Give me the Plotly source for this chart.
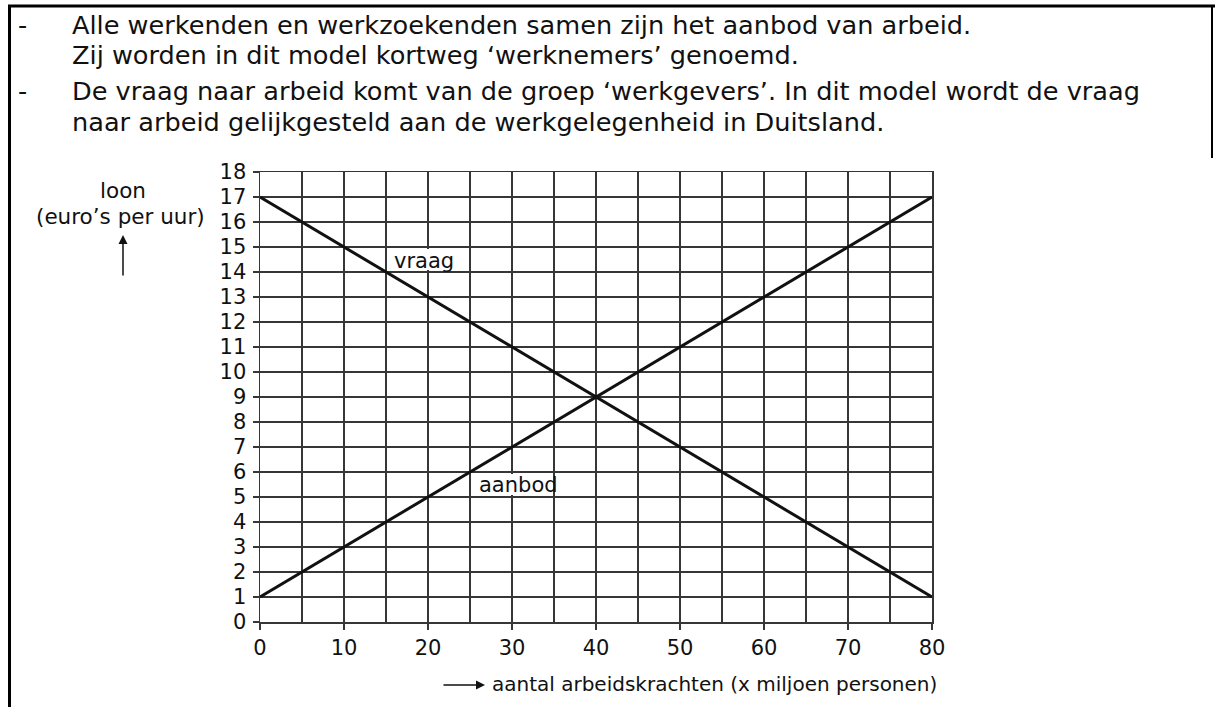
import plotly.graph_objects as go

# ---------------- data ----------------
arbeid = [0, 80]            # aantal arbeidskrachten (x miljoen personen)
vraag = [17, 1]             # loon bij vraag
aanbod = [1, 17]            # loon bij aanbod
x_ticks = [0, 10, 20, 30, 40, 50, 60, 70, 80]
x_grid = [0, 5, 10, 15, 20, 25, 30, 35, 40, 45, 50, 55, 60, 65, 70, 75, 80]
y_ticks = list(range(0, 19))

intro_lines = [
    "Alle werkenden en werkzoekenden samen zijn het aanbod van arbeid.",
    "Zij worden in dit model kortweg \u2018werknemers\u2019 genoemd.",
    "De vraag naar arbeid komt van de groep \u2018werkgevers\u2019. In dit model wordt de vraag",
    "naar arbeid gelijkgesteld aan de werkgelegenheid in Duitsland.",
]
bullet_lines = [0, 2]

# ---------------- layout helpers ----------------
W, H = 1215, 707
L, R, T, B = 260, 932, 172, 622


def px(x):
    return (x - L) / (R - L)


def py(y):
    return (B - y) / (B - T)


FONT = "DejaVu Sans"
GRID = "#363636"

fig = go.Figure()
fig.add_trace(go.Scatter(x=arbeid, y=vraag, mode="lines",
                         line=dict(color="#111111", width=3),
                         showlegend=False, hoverinfo="skip"))
fig.add_trace(go.Scatter(x=arbeid, y=aanbod, mode="lines",
                         line=dict(color="#111111", width=3),
                         showlegend=False, hoverinfo="skip"))

axis_common = dict(
    ticks="outside", ticklen=6, tickwidth=1.5, tickcolor=GRID,
    showgrid=True, gridcolor=GRID, gridwidth=1.5,
    showline=True, linecolor=GRID, linewidth=1.5, mirror=True,
    zeroline=False, tickfont=dict(family=FONT, size=21, color="#111111"),
    fixedrange=True,
)

fig.update_layout(
    width=W, height=H,
    margin=dict(l=L, r=W - R, t=T, b=H - B),
    plot_bgcolor="white", paper_bgcolor="white",
    xaxis=dict(range=[0, 80], tickmode="array", tickvals=x_ticks,
               minor=dict(tickmode="array", tickvals=x_grid, showgrid=True,
                          gridcolor=GRID, gridwidth=1.5, ticks=""),
               **axis_common),
    yaxis=dict(range=[0, 18], tickmode="array", tickvals=y_ticks,
               ticklabelstandoff=2, **axis_common),
    font=dict(family=FONT, color="#111111"),
)

shapes = []
# outer frame of the exam box (drawn as one open path)
frame_path = "M {:.5f},{:.5f} L {:.5f},{:.5f} L {:.5f},{:.5f}".format(
    px(9.5), py(707), px(9.5), py(6), px(1215), py(6))
shapes.append(dict(type="path", xref="paper", yref="paper", path=frame_path,
                   line=dict(color="black", width=3)))
shapes.append(dict(type="line", xref="paper", yref="paper",
                   x0=px(1212), x1=px(1212), y0=py(5), y1=py(158),
                   line=dict(color="black", width=2)))
# white masks behind the curve labels (between grid and traces)
shapes.append(dict(type="rect", xref="x", yref="y", layer="between",
                   x0=15.4, x1=22.9, y0=14.08, y1=14.92,
                   fillcolor="white", line=dict(width=0)))
shapes.append(dict(type="rect", xref="x", yref="y", layer="between",
                   x0=25.5, x1=34.8, y0=5.08, y1=5.92,
                   fillcolor="white", line=dict(width=0)))
fig.update_layout(shapes=shapes)

ann = []
line_y = [25.5, 55, 91, 122]
for i, txt in enumerate(intro_lines):
    ann.append(dict(xref="paper", yref="paper", x=px(70), y=py(line_y[i]),
                    xanchor="left", yanchor="middle", showarrow=False,
                    text=txt, font=dict(family=FONT, size=25.6, color="#111111")))
for i in bullet_lines:
    ann.append(dict(xref="paper", yref="paper", x=px(23), y=py(line_y[i]),
                    xanchor="center", yanchor="middle", showarrow=False,
                    text="-", font=dict(family=FONT, size=25.6, color="#111111")))

# y-axis title
ann.append(dict(xref="paper", yref="paper", x=px(123), y=py(190),
                xanchor="center", yanchor="middle", showarrow=False,
                text="loon", font=dict(family=FONT, size=21.5, color="#111111")))
ann.append(dict(xref="paper", yref="paper", x=px(120), y=py(216),
                xanchor="center", yanchor="middle", showarrow=False,
                text="(euro\u2019s per uur)", font=dict(family=FONT, size=21.5, color="#111111")))
ann.append(dict(xref="paper", yref="paper", x=px(123), y=py(235),
                ax=0, ay=42, showarrow=True, text="",
                arrowhead=2, arrowsize=1.2, arrowwidth=1.5, arrowcolor="#111111"))

# x-axis title
ann.append(dict(xref="paper", yref="paper", x=px(485), y=py(685),
                ax=-43, ay=0, showarrow=True, text="",
                arrowhead=2, arrowsize=1.2, arrowwidth=1.5, arrowcolor="#111111"))
ann.append(dict(xref="paper", yref="paper", x=px(490), y=py(684),
                xanchor="left", yanchor="middle", showarrow=False,
                text="aantal arbeidskrachten (x miljoen personen)",
                font=dict(family=FONT, size=20, color="#111111")))

# curve labels
ann.append(dict(xref="x", yref="y", x=15.7, y=14.45,
                xanchor="left", yanchor="middle", showarrow=False,
                text="vraag", font=dict(family=FONT, size=21, color="#111111")))
ann.append(dict(xref="x", yref="y", x=25.8, y=5.5,
                xanchor="left", yanchor="middle", showarrow=False,
                text="aanbod", font=dict(family=FONT, size=21, color="#111111")))

fig.update_layout(annotations=ann)

fig.write_html("out.html",
               config={"displayModeBar": False, "staticPlot": True},
               post_script="document.body.style.margin='0';document.body.style.overflow='hidden';")
